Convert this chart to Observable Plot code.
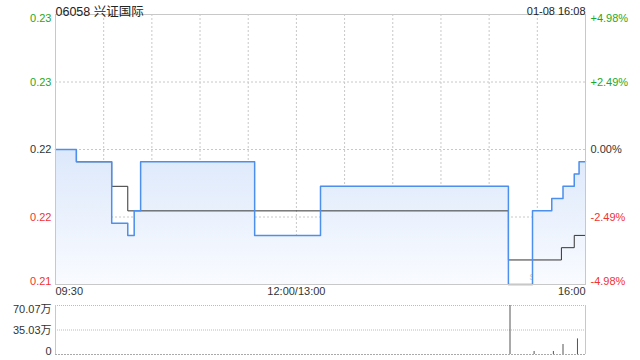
<!DOCTYPE html>
<html><head><meta charset="utf-8">
<script src="https://cdn.jsdelivr.net/npm/d3@7"></script>
<script src="https://cdn.jsdelivr.net/npm/@observablehq/plot@0.6"></script>
<style>
body{margin:0;background:#fff;}
#chart{width:640px;height:360px;position:relative;}
#chart svg{display:block;}
</style></head><body><div id="chart"></div>
<script>
const title = "06058 兴证国际";
const stamp = "01-08 16:08";
const prevClose = 0.221;
const priceTimes  = ["09:30","09:43","10:05","10:15","10:19","10:23","11:34","13:15","15:12","15:27","15:39","15:46","15:53","15:56","16:00"];
const priceValues = [0.221, 0.220, 0.215, 0.214, 0.216, 0.220, 0.214, 0.218, 0.210, 0.216, 0.217, 0.218, 0.219, 0.220, 0.220];
const avgTimes  = ["09:30","09:43","10:05","10:15","15:12","15:45","15:53","16:00"];
const avgValues = [0.221, 0.220, 0.218, 0.216, 0.212, 0.213, 0.214, 0.214];
const volumeTimes  = ["15:13","15:28","15:40","15:46","15:55"];
const volumeValues = [700700, 43000, 43000, 143000, 223000];
const priceTickLabels = ["0.23","0.23","0.22","0.22","0.21"];
const pctTickLabels = ["+4.98%","+2.49%","0.00%","-2.49%","-4.98%"];
const volumeTickLabels = ["70.07万","35.03万","0"];
const timeTickLabels = ["09:30","12:00/13:00","16:00"];
const timeTickTimes = ["09:30","12:00","16:00"];
const gridTimes = ["10:00","10:30","11:00","11:30","12:00","13:30","14:00","14:30","15:00","15:30"];

const FONT = "'Liberation Sans', Arial, 'Noto Sans CJK SC', sans-serif";
const GREEN = "#1fa81f", RED = "#f03333", DARK = "#333333";
const BLUE = "#4d8fec";

function toMin(t){ const [h,m] = t.split(":").map(Number); let v = (h-9)*60 + m - 30; if (h >= 13) v -= 60; return v; }

const price = priceTimes.map((t,i)=>({x:toMin(t), y:priceValues[i]}));
const avg = avgTimes.map((t,i)=>({x:toMin(t), y:avgValues[i]}));
const vol = volumeTimes.map((t,i)=>({x:toMin(t), v:volumeValues[i]}));

const dev = d3.max(priceValues.concat(avgValues), v => Math.abs(v - prevClose)) / prevClose;
const lo = prevClose*(1-dev), hi = prevClose*(1+dev);
const tickVals = [hi, prevClose*(1+dev/2), prevClose, prevClose*(1-dev/2), lo];
const tickColors = [GREEN, GREEN, DARK, RED, RED];
const ticks = tickVals.map((v,i)=>({v, left: priceTickLabels[i], right: pctTickLabels[i], c: tickColors[i]}));
const xDomain = [0, toMin("16:00")];

function yLabels(data, side, lineAnchor){
  return Plot.text(data, {y: "v", text: side, fill: "c", frameAnchor: side, dx: side === "left" ? -4 : 5,
    textAnchor: side === "left" ? "end" : "start", lineAnchor, fontSize: 11});
}
const anchors = ["start","middle","end"];
const timeLabelMarks = timeTickTimes.map((t,i)=>Plot.text([timeTickLabels[i]], {x: () => toMin(t), text: d => d,
  frameAnchor: "bottom", dy: 10, textAnchor: anchors[i], fontSize: 11, fill: DARK}));

const main = Plot.plot({
  width: 640, height: 300,
  marginLeft: 55, marginRight: 55, marginTop: 14, marginBottom: 16,
  style: {fontFamily: FONT, background: "transparent"},
  x: {domain: xDomain, axis: null},
  y: {domain: [lo, hi], axis: null},
  color: {type: "identity"},
  marks: [
    Plot.ruleX(gridTimes.map(toMin), {stroke: "#c8c8c8", strokeDasharray: "2,2"}),
    Plot.ruleY(tickVals.slice(1,4), {stroke: "#c8c8c8", strokeDasharray: "2,2"}),
    Plot.text(["sina.com"], {frameAnchor: "bottom-right", dx: -12, dy: -5, textAnchor: "end", fill: "#cccccc", fontSize: 11}),
    Plot.areaY(price, {x: "x", y1: () => lo, y2: "y", curve: "step-after", fill: "url(#priceGrad)"}),
    Plot.line(avg, {x: "x", y: "y", curve: "step-after", stroke: "#333", strokeWidth: 1}),
    Plot.line(price, {x: "x", y: "y", curve: "step-after", stroke: BLUE, strokeWidth: 1.5}),
    Plot.frame({stroke: "#c8c8c8"}),
    yLabels([ticks[0]], "left", "top"),
    yLabels(ticks.slice(1,4), "left", "middle"),
    yLabels([ticks[4]], "left", "bottom"),
    yLabels([ticks[0]], "right", "top"),
    yLabels(ticks.slice(1,4), "right", "middle"),
    yLabels([ticks[4]], "right", "bottom"),
    ...timeLabelMarks,
    Plot.text([title], {frameAnchor: "top-left", dy: -7, textAnchor: "start", fontSize: 12.5, fill: "#222"}),
    Plot.text([stamp], {frameAnchor: "top-right", dy: -7, textAnchor: "end", fontSize: 11, fill: "#222"})
  ]
});
const defs = d3.select(main).insert("defs", ":first-child");
const grad = defs.append("linearGradient").attr("id","priceGrad").attr("x1",0).attr("y1",0).attr("x2",0).attr("y2",1);
grad.append("stop").attr("offset",0).attr("stop-color","#dce8fb");
grad.append("stop").attr("offset",1).attr("stop-color","#f9fbff");

const vmax = d3.max(volumeValues);
const vticks = [vmax, vmax/2, 0].map((v,i)=>({v, left: volumeTickLabels[i], c: "#333"}));
const volume = Plot.plot({
  width: 640, height: 60,
  marginLeft: 55, marginRight: 55, marginTop: 5, marginBottom: 6,
  style: {fontFamily: FONT, background: "transparent"},
  x: {domain: xDomain, axis: null},
  y: {domain: [0, vmax], axis: null},
  color: {type: "identity"},
  marks: [
    Plot.ruleY([vmax, vmax/2], {stroke: "#bbb", strokeDasharray: "1,1"}),
    Plot.ruleY([0], {stroke: "#aaa", strokeDasharray: "2,1"}),
    Plot.ruleX(xDomain, {stroke: "#c8c8c8"}),
    Plot.ruleX(vol, {x: "x", y1: () => 0, y2: "v", stroke: "#555", strokeWidth: 1}),
    yLabels([vticks[0]], "left", "top"),
    yLabels([vticks[1]], "left", "middle"),
    yLabels([vticks[2]], "left", "bottom")
  ]
});
document.getElementById("chart").append(main, volume);
</script></body></html>
